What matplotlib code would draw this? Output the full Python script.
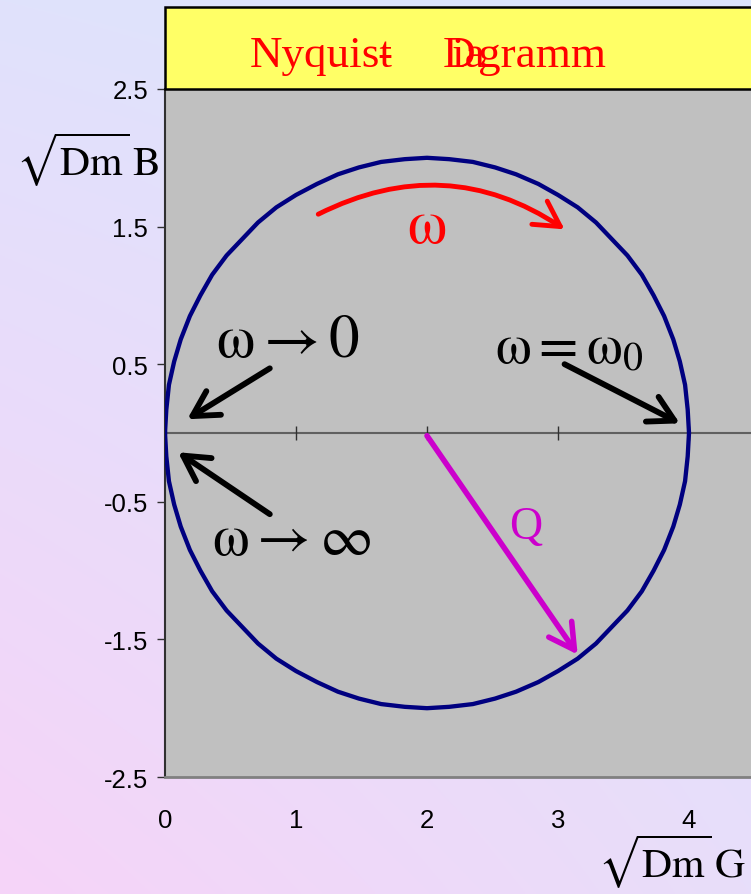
import matplotlib.pyplot as plt
import numpy as np
from matplotlib.patches import Rectangle

W, H = 751, 895
plt.rcParams['mathtext.fontset'] = 'stix'

# Locus of the admittance, traversed from omega -> 0 over the top to omega -> inf
locus_g = [0.00, 0.01, 0.03, 0.07, 0.12, 0.19, 0.27, 0.36, 0.47, 0.59, 0.71, 0.85,
           1.00, 1.16, 1.32, 1.48, 1.65, 1.83, 2.00, 2.17, 2.35, 2.52, 2.68, 2.85,
           3.00, 3.15, 3.29, 3.41, 3.53, 3.64, 3.73, 3.81, 3.88, 3.93, 3.97, 3.99,
           4.00,
           3.99, 3.97, 3.93, 3.88, 3.81, 3.73, 3.64, 3.53, 3.41, 3.29, 3.15, 3.00,
           2.85, 2.68, 2.52, 2.35, 2.17, 2.00, 1.83, 1.65, 1.48, 1.32, 1.16, 1.00,
           0.85, 0.71, 0.59, 0.47, 0.36, 0.27, 0.19, 0.12, 0.07, 0.03, 0.01, 0.00]
locus_b = [0.00, 0.17, 0.35, 0.52, 0.68, 0.85, 1.00, 1.15, 1.29, 1.41, 1.53, 1.64,
           1.73, 1.81, 1.88, 1.93, 1.97, 1.99, 2.00, 1.99, 1.97, 1.93, 1.88, 1.81,
           1.73, 1.64, 1.53, 1.41, 1.29, 1.15, 1.00, 0.85, 0.68, 0.52, 0.35, 0.17,
           0.00,
           -0.17, -0.35, -0.52, -0.68, -0.85, -1.00, -1.15, -1.29, -1.41, -1.53, -1.64,
           -1.73, -1.81, -1.88, -1.93, -1.97, -1.99, -2.00, -1.99, -1.97, -1.93, -1.88,
           -1.81, -1.73, -1.64, -1.53, -1.41, -1.29, -1.15, -1.00, -0.85, -0.68, -0.52,
           -0.35, -0.17, 0.00]

x_ticks = [0, 1, 2, 3, 4]
y_ticks = [2.5, 1.5, 0.5, -0.5, -1.5, -2.5]
y_tick_labels = ['2.5', '1.5', '0.5', '-0.5', '-1.5', '-2.5']


def fx(px):
    return px / W


def fy(py):
    return 1 - py / H


fig = plt.figure(figsize=(W / 100, H / 100), dpi=100)

# soft diagonal background gradient
bg = fig.add_axes([0, 0, 1, 1], zorder=-10)
u = np.linspace(0, 1, 300)[None, :]
v = np.linspace(0, 1, 300)[:, None]
tl = np.array([224, 226, 252]) / 255
tr = np.array([220, 229, 252]) / 255
bl = np.array([246, 212, 248]) / 255
br = np.array([232, 222, 250]) / 255
img = ((1 - u)[..., None] * (1 - v)[..., None] * tl + u[..., None] * (1 - v)[..., None] * tr
       + (1 - u)[..., None] * v[..., None] * bl + u[..., None] * v[..., None] * br)
bg.imshow(img, extent=[0, 1, 0, 1], aspect='auto')
bg.axis('off')

# yellow title box
fig.add_artist(Rectangle((fx(165), fy(90)), 1.0, (90 - 8) / H, transform=fig.transFigure,
                         facecolor='#FFFF66', edgecolor='black', lw=1.8, zorder=2))
title_font = dict(family='Liberation Serif', fontsize=32.5, color='red', va='baseline',
                  ha='left', zorder=3)
for txt, px in [('Nyquist', 250), ('-', 377), ('D', 443), ('ia', 452), ('gramm', 478)]:
    fig.text(fx(px), fy(67), txt, **title_font)

ax = fig.add_axes([fx(165), fy(778), 586 / W, 688 / H])
ax.set_facecolor('#C0C0C0')
ax.set_xlim(0, 586 / 131)
ax.set_ylim(-2.5, 2.5)
for side in ['top', 'right']:
    ax.spines[side].set_visible(False)
ax.spines['left'].set_color('#303030')
ax.spines['left'].set_linewidth(1.5)
ax.spines['bottom'].set_color('#808080')
ax.spines['bottom'].set_linewidth(2)

ax.set_yticks(y_ticks)
ax.set_yticklabels(y_tick_labels, family='Liberation Sans', fontsize=18.5)
ax.tick_params(axis='y', direction='out', length=6, width=1, color='#303030', pad=6)
ax.set_xticks(x_ticks)
ax.set_xticklabels([str(t) for t in x_ticks], family='Liberation Sans', fontsize=18.5)
ax.tick_params(axis='x', length=0, pad=22)

# horizontal axis through the origin with crossing tick marks
ax.axhline(0, color='#606060', lw=1.5, zorder=1)
ax.plot(x_ticks[1:], [0] * len(x_ticks[1:]), ls='none', marker='|', markersize=10,
        markeredgewidth=1, color='#303030', zorder=1)

ax.plot(locus_g, locus_b, color='#000080', lw=3.1, zorder=3, solid_joinstyle='round')


def arrow(start, tip, color, lw, rad=0.0):
    ax.annotate('', xy=tip, xytext=start, zorder=4,
                arrowprops=dict(arrowstyle='->,head_length=0.9,head_width=0.5',
                                color=color, lw=lw, mutation_scale=20,
                                shrinkA=0, shrinkB=0,
                                connectionstyle=f'arc3,rad={rad}'))


arrow((1.17, 1.59), (3.05, 1.48), 'red', 3.5, rad=-0.29)
arrow((0.80, 0.47), (0.17, 0.10), 'black', 4.2)
arrow((3.05, 0.50), (3.93, 0.07), 'black', 4.2)
arrow((0.80, -0.59), (0.10, -0.14), 'black', 4.2)
arrow((2.00, -0.02), (3.15, -1.61), '#CC00CC', 4)

ax.text(2.0, 1.51, r'$\mathrm{\omega}$', color='red', fontsize=45, ha='center', va='center')
ax.text(0.94, 0.68, r'$\mathrm{\omega} \rightarrow 0$', fontsize=44, ha='center', va='center')
ax.text(3.09, 0.63, r'$\mathrm{\omega} = \mathrm{\omega}_0$', fontsize=41, ha='center',
        va='center')
ax.text(0.97, -0.76, r'$\mathrm{\omega} \rightarrow \infty$', fontsize=42, ha='center',
        va='center')
ax.text(2.75, -0.68, 'Q', family='Liberation Serif', color='#CC00CC', fontsize=33,
        ha='center', va='center')

fig.text(fx(88), fy(160), r'$\sqrt{\mathrm{Dm}}\,\mathrm{B}$', fontsize=30,
         ha='center', va='center')
fig.text(fx(672), fy(862), r'$\sqrt{\mathrm{Dm}}\,\mathrm{G}$', fontsize=30,
         ha='center', va='center')

fig.savefig('out.png', dpi=100)
